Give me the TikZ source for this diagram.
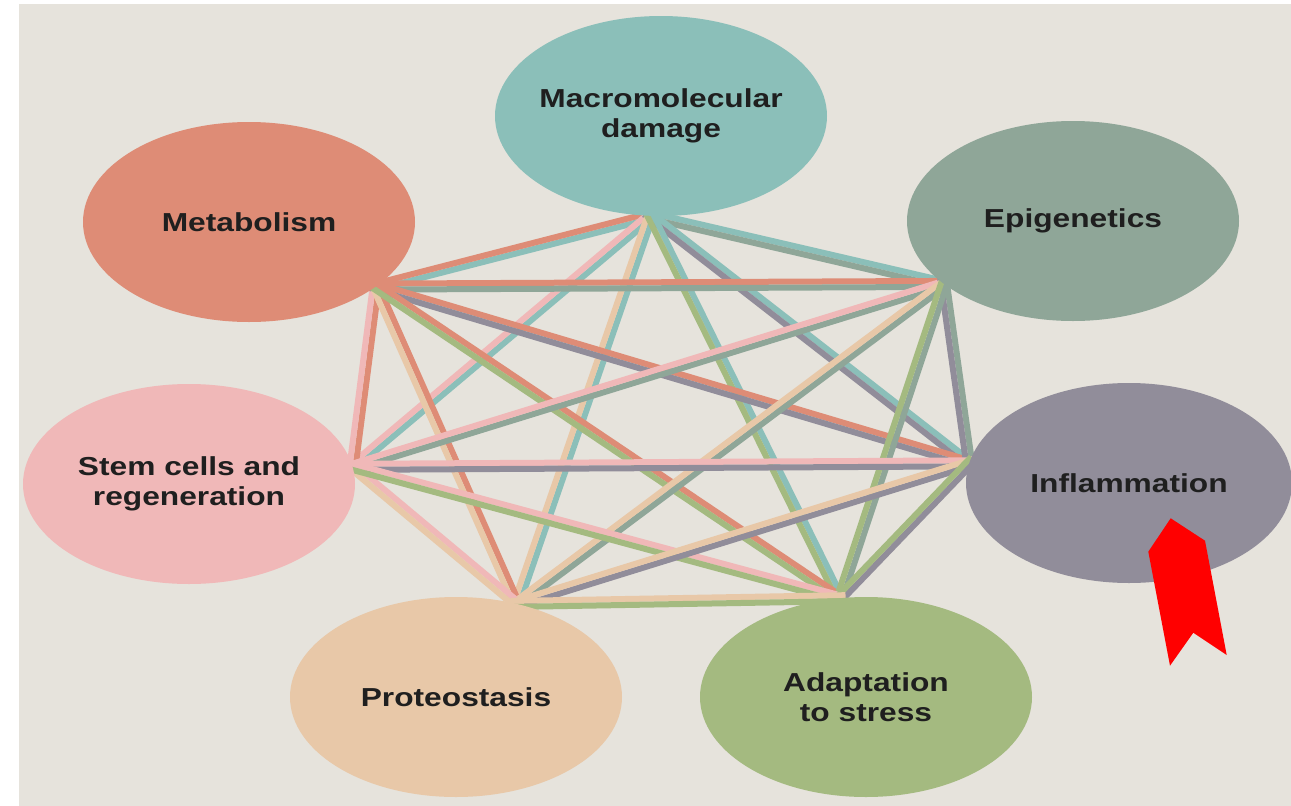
\documentclass[tikz,border=0pt]{standalone}
\usepackage{fontspec}
\newfontfamily\labelfont{Liberation Sans}[FakeStretch=1.22]
\usetikzlibrary{backgrounds,calc,shapes.geometric}

\definecolor{paper}{HTML}{E6E3DC}
\definecolor{macrocol}{HTML}{8BBFB9}
\definecolor{metabcol}{HTML}{DE8C76}
\definecolor{epigcol}{HTML}{8FA698}
\definecolor{stemcol}{HTML}{F0B8B8}
\definecolor{inflamcol}{HTML}{918D9A}
\definecolor{proteocol}{HTML}{E8C8A8}
\definecolor{adaptcol}{HTML}{A4BA80}

% two coloured stripes from hub #1 to hub #2
\newcommand{\twotone}[2]{%
  \draw[stripe, draw=#1col] ($(#1H)!3pt!90:(#2H)$) -- ($(#2H)!3pt!-90:(#1H)$);
  \draw[stripe, draw=#2col] ($(#1H)!3pt!-90:(#2H)$) -- ($(#2H)!3pt!90:(#1H)$);}

\begin{document}
\begin{tikzpicture}[x=1pt, y=-1pt]
        \tikzset{hallmark/.style={ellipse, minimum width=332pt, minimum height=200pt,
                inner xsep=-12pt, inner ysep=0pt, outer sep=0pt, align=center,
                font=\labelfont\bfseries\fontsize{26}{30}\selectfont, text=black!88}}
        \tikzset{stripe/.style={line width=6pt, shorten <=-6pt, shorten >=-6pt}}
        \useasboundingbox (0,0) rectangle (1291,806);

        % the seven ellipses
        \node[hallmark, fill=macrocol] (macro) at (661,116) {Macromolecular\\damage};
        \node[hallmark, fill=metabcol] (metab) at (249,222) {Metabolism};
        \node[hallmark, fill=epigcol] (epig) at (1073,221) {Epigenetics};
        \node[hallmark, fill=stemcol] (stem) at (189,484) {Stem cells and\\regeneration};
        \node[hallmark, fill=inflamcol, minimum width=326pt] (inflam) at (1129,483) {Inflammation};
        \node[hallmark, fill=proteocol] (proteo) at (456,697) {Proteostasis};
        \node[hallmark, fill=adaptcol] (adapt) at (866,697) {Adaptation\\to stress};

        % hubs where the links meet
        \coordinate (macroH) at (macro.-96);
        \coordinate (metabH) at (metab.-27);
        \coordinate (epigH) at (epig.-154);
        \coordinate (stemH) at (stem.6);
        \coordinate (inflamH) at (inflam.173);
        \coordinate (proteoH) at (proteo.57);
        \coordinate (adaptH) at (adapt.105);

        \begin{scope}[on background layer]
        \fill[white] (0,0) rectangle (1291,806);
        \fill[paper] (19,4) rectangle (1291,806);
        \twotone{macro}{metab}
        \twotone{macro}{epig}
        \twotone{macro}{stem}
        \twotone{macro}{inflam}
        \twotone{macro}{proteo}
        \twotone{macro}{adapt}
        \twotone{metab}{epig}
        \twotone{metab}{stem}
        \twotone{metab}{inflam}
        \twotone{metab}{proteo}
        \twotone{metab}{adapt}
        \twotone{epig}{stem}
        \twotone{epig}{inflam}
        \twotone{epig}{proteo}
        \twotone{epig}{adapt}
        \twotone{stem}{inflam}
        \twotone{stem}{proteo}
        \twotone{stem}{adapt}
        \twotone{inflam}{proteo}
        \twotone{inflam}{adapt}
        \twotone{proteo}{adapt}
        \end{scope}

        % red marker
        \fill[red] (1170.7,518.3) -- (1205,540.7) -- (1226.7,655) -- (1193.3,632.7)
                -- (1170,665.7) -- (1148.3,551.7) -- cycle;
\end{tikzpicture}
\end{document}
